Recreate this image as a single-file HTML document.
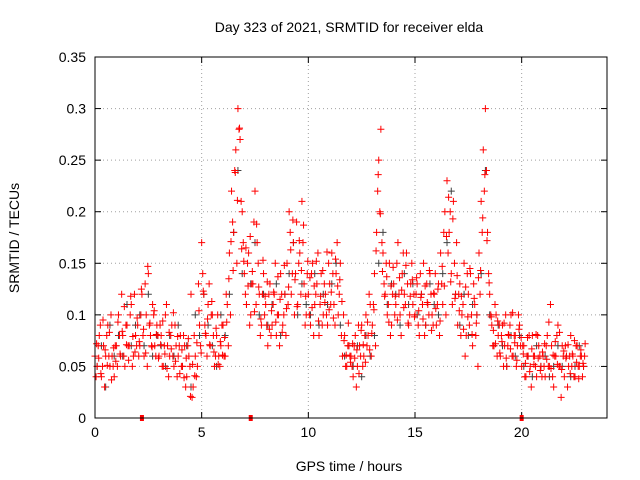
<!DOCTYPE html>
<html><head><meta charset="utf-8"><style>
body{margin:0;background:#fff;}
svg{display:block;font-family:"Liberation Sans",sans-serif;}
</style></head><body>
<svg id="chart" width="640" height="480" viewBox="0 0 640 480">
<text x="349" y="32" font-size="14" text-anchor="middle">Day 323 of 2021, SRMTID for receiver elda</text>
<text x="349" y="471" font-size="14" text-anchor="middle">GPS time / hours</text>
<text x="19" y="238" font-size="14" text-anchor="middle" transform="rotate(-90 19 238)">SRMTID / TECUs</text>
<g id="grid"></g>
<g id="ticks"></g>
<g id="marks"></g>
<rect x="95" y="57" width="512" height="361" fill="none" stroke="#000" stroke-width="1"/>
</svg>
<script>
const xTicks=[0,5,10,15,20];
const yTicks=[0,0.05,0.1,0.15,0.2,0.25,0.3,0.35];
const yTickLabels=["0","0.05","0.1","0.15","0.2","0.25","0.3","0.35"];
const redStart=0, redStep=0.1;
const red1=[.06,.05,.08,.04,.07,.06,.09,.05,.06,.04,
.07,.10,.06,.08,.05,.09,.07,.11,.06,.08,
.09,.07,.12,.06,.10,.14,.08,.11,.07,.09,
.06,.08,.05,.10,.07,.06,.09,.05,.07,.06,
.08,.05,.07,.04,.06,.12,.03,.06,.05,.09,
.17,.12,.08,.11,.07,.10,.05,.08,.06,.07,
.09,.06,.11,.16,.22,.18,.26,.30,.27,.20,
.14,.11,.16,.10,.13,.22,.17,.12,.09,.14,
.11,.07,.13,.09,.12,.08,.10,.14,.09,.12,
.15,.20,.12,.17,.14,.11,.16,.21,.13,.10,
.12,.09,.15,.11,.13,.08,.14,.10,.12,.09,
.13,.16,.11,.14,.10,.15,.06,.08,.05,.07,
.06,.04,.08,.05,.07,.09,.06,.10,.08,.11,
.09,.14,.18,.25,.28,.16,.12,.10,.15,.09,
.13,.11,.17,.10,.14,.12,.16,.09,.13,.11,
.10,.13,.08,.12,.15,.09,.11,.14,.10,.12,
.09,.13,.16,.11,.20,.23,.18,.14,.21,.12,
.09,.13,.10,.15,.08,.12,.14,.07,.11,.10,
.16,.21,.26,.30,.18,.12,.09,.07,.10,.08,
.06,.09,.07,.05,.08,.10,.06,.08,.07,.09,
.05,.07,.04,.06,.05,.08,.06,.04,.07,.05,
.06,.04,.08,.05,.07,.03,.06,.09,.05,.07,
.04,.06,.05,.08,.06,.04,.07,.05,.06,.05];
const red2Start=0.05;
const red2=[.04,.07,.09,.05,.03,.08,.06,.10,.05,.07,
.05,.08,.12,.06,.09,.07,.10,.05,.12,.07,
.06,.10,.08,.13,.05,.09,.07,.10,.06,.08,
.09,.05,.07,.11,.04,.08,.06,.09,.04,.07,
.05,.08,.03,.07,.05,.02,.08,.04,.13,.07,
.14,.09,.06,.13,.10,.08,.06,.10,.05,.09,
.06,.12,.07,.10,.19,.24,.15,.28,.21,.17,
.12,.15,.09,.13,.19,.11,.15,.08,.12,.10,
.09,.12,.08,.11,.15,.10,.07,.12,.10,.08,
.11,.18,.14,.10,.19,.15,.12,.17,.09,.14,
.10,.14,.08,.12,.16,.11,.09,.13,.10,.15,
.11,.14,.09,.17,.12,.08,.10,.05,.07,.06,
.05,.07,.03,.09,.06,.05,.08,.07,.12,.06,
.11,.07,.22,.20,.17,.13,.15,.11,.08,.12,
.10,.15,.12,.08,.16,.11,.13,.10,.15,.12,
.12,.09,.14,.11,.08,.13,.10,.12,.09,.14,
.11,.08,.13,.18,.10,.16,.20,.11,.15,.17,
.12,.08,.11,.06,.14,.09,.10,.13,.08,.05,
.12,.18,.22,.24,.14,.10,.07,.11,.06,.09,
.08,.05,.10,.07,.09,.06,.08,.05,.10,.07,
.07,.04,.06,.08,.03,.06,.05,.08,.06,.04,
.05,.07,.05,.11,.04,.06,.08,.05,.02,.06,
.07,.03,.06,.05,.04,.07,.05,.06,.04,.06];
const red3Start=0.075;
const red3=[.072,.058,.043,.095,.066,.051,.083,.037,.068,.055,
.093,.062,.084,.108,.071,.056,.118,.079,.064,.097,
.074,.125,.086,.063,.147,.092,.069,.104,.081,.058,
.071,.094,.062,.048,.083,.067,.102,.055,.079,.043,
.066,.039,.058,.077,.021,.052,.041,.073,.104,.063,
.123,.082,.096,.071,.113,.064,.087,.052,.074,.061,
.078,.093,.135,.171,.143,.238,.211,.281,.164,.152,
.165,.128,.176,.142,.103,.188,.127,.096,.153,.118,
.132,.086,.104,.122,.093,.137,.115,.083,.148,.106,
.127,.163,.192,.134,.108,.172,.143,.187,.118,.152,
.136,.107,.128,.152,.094,.118,.143,.112,.161,.105,
.122,.097,.154,.128,.134,.113,.075,.061,.092,.054,
.072,.058,.066,.043,.085,.071,.054,.093,.066,.082,
.105,.162,.236,.198,.142,.118,.137,.093,.128,.146,
.118,.095,.136,.124,.107,.148,.092,.118,.134,.098,
.136,.104,.117,.096,.128,.112,.143,.085,.121,.106,
.125,.094,.147,.128,.176,.214,.132,.193,.116,.138,
.104,.118,.086,.127,.098,.145,.081,.116,.092,.136,
.143,.194,.236,.172,.131,.098,.085,.072,.094,.063,
.074,.092,.058,.081,.067,.102,.073,.056,.086,.078,
.062,.053,.078,.045,.067,.052,.081,.058,.046,.064,
.072,.057,.093,.048,.061,.074,.052,.083,.047,.065,
.058,.071,.043,.062,.075,.054,.038,.066,.053,.072];
const blackStart=0.1, blackStep=0.2;
const black=[.05,.07,.03,.09,.06,.08,.06,.11,.07,.09,
.10,.07,.12,.06,.08,.07,.05,.08,.06,.09,
.05,.07,.03,.10,.08,.12,.09,.07,.05,.10,
.08,.12,.18,.24,.14,.11,.13,.17,.10,.12,
.09,.11,.13,.08,.12,.14,.17,.10,.13,.11,
.10,.14,.09,.12,.11,.13,.15,.09,.06,.07,
.05,.07,.04,.08,.06,.08,.15,.18,.11,.13,
.12,.09,.14,.11,.13,.10,.12,.09,.13,.11,
.10,.14,.17,.22,.12,.09,.12,.08,.11,.10,
.14,.24,.10,.07,.09,.07,.05,.08,.06,.08,
.05,.06,.04,.07,.05,.06,.04,.05,.07,.05,
.06,.04,.05,.07,.05];
const gapMarkers=[2.2,7.3,20.0];

const X0=95,X1=607,Y0=418,Y1=57,XMAX=24,YMAX=0.35;
function xs(t){return X0+(X1-X0)*t/XMAX;}
function ys(v){return Y0-(Y0-Y1)*v/YMAX;}
const NS="http://www.w3.org/2000/svg";
const grid=document.getElementById('grid'),ticks=document.getElementById('ticks'),marks=document.getElementById('marks');
function mk(tag,attrs,parent){const e=document.createElementNS(NS,tag);for(const k in attrs)e.setAttribute(k,attrs[k]);parent.appendChild(e);return e;}
xTicks.forEach(t=>{
  const x=xs(t);
  if(t>0){const g=mk('line',{x1:x,x2:x,y1:Y1,y2:Y0,stroke:'#a0a0a0','stroke-dasharray':'1,3'},grid);
  
  }
  mk('line',{x1:x,x2:x,y1:Y0,y2:Y0-6,stroke:'#000'},ticks);
  mk('line',{x1:x,x2:x,y1:Y1,y2:Y1+6,stroke:'#000'},ticks);
  const l=mk('text',{x:x,y:Y0+19,'font-size':14,'text-anchor':'middle'},ticks);l.textContent=t;
  
  
});
yTicks.forEach((v,i)=>{
  const y=ys(v);
  if(v>0&&v<YMAX){const g=mk('line',{x1:X0,x2:X1,y1:y,y2:y,stroke:'#a0a0a0','stroke-dasharray':'1,3'},grid);
  
  }
  mk('line',{x1:X0,x2:X0+6,y1:y,y2:y,stroke:'#000'},ticks);
  mk('line',{x1:X1,x2:X1-6,y1:y,y2:y,stroke:'#000'},ticks);
  const l=mk('text',{x:X0-9,y:y+5,'font-size':14,'text-anchor':'end'},ticks);l.textContent=yTickLabels[i];
  
  
});
function plus(t,v,color,name){
  const x=xs(t),y=ys(v);
  const p=mk('path',{d:`M${x-3.5},${y}h7M${x},${y-3.5}v7`,stroke:color,'stroke-width':1,fill:'none'},marks);
  
  
}
black.forEach((v,i)=>plus(blackStart+i*blackStep,v,'#404040','black-point'));
red1.forEach((v,i)=>plus(redStart+i*redStep,v,'#ff0000','red-point'));
red2.forEach((v,i)=>plus(red2Start+i*redStep,v,'#ff0000','red-point'));
red3.forEach((v,i)=>plus(red3Start+i*redStep,v,'#ff0000','red-point'));
gapMarkers.forEach(t=>{
  const r=mk('rect',{x:xs(t)-2,y:Y0-3,width:4,height:6,fill:'#ff0000'},marks);
  
  
});
</script>
</body></html>
